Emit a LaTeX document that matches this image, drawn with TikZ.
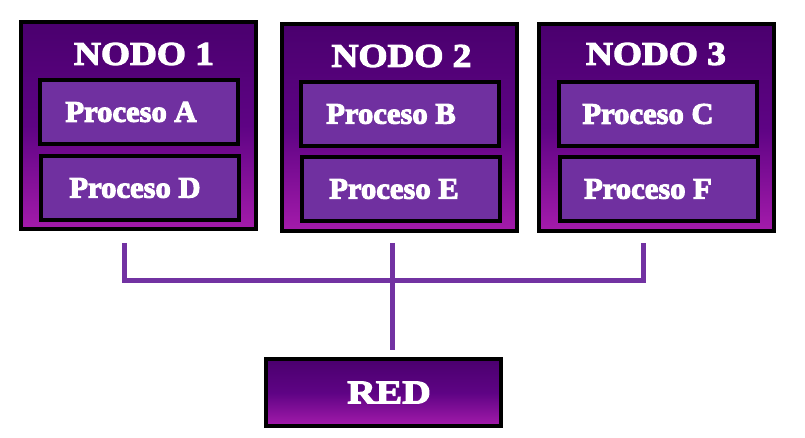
\documentclass[tikz,border=0pt]{standalone}
\usepackage{fontspec}
\newfontfamily\capfont[FakeBold=3.5,FakeStretch=1.13]{Liberation Serif}
\newfontfamily\procfont[FakeBold=3.5,FakeStretch=1.02]{Liberation Serif}
\newfontfamily\redfont[FakeBold=3.5,FakeStretch=1.2]{Liberation Serif}
\definecolor{nodetop}{HTML}{4A006E}
\definecolor{nodemid}{HTML}{5E0384}
\definecolor{nodebot}{HTML}{A41BAB}
\definecolor{procfill}{HTML}{7030A0}
\definecolor{linkcol}{HTML}{7232A2}
\begin{document}
\begin{tikzpicture}[x=1pt,y=-1pt,
  nodebox/.style={draw=black,line width=4pt,minimum width=235pt,minimum height=207pt,
    inner sep=0pt,outer sep=0pt,top color=nodetop,bottom color=nodebot,middle color=nodemid},
  redbox/.style={nodebox,minimum height=67pt,text=white,font=\redfont\bfseries\fontsize{33}{38}\selectfont},
  procbox/.style={draw=black,line width=4pt,fill=procfill,minimum width=198pt,minimum height=64pt,
    inner sep=0pt,outer sep=0pt,text=white,font=\procfont\bfseries\fontsize{30}{34}\selectfont},
  title/.style={text=white,inner sep=0pt,font=\capfont\bfseries\fontsize{33}{38}\selectfont},
  link/.style={draw=linkcol,line width=5pt,line join=miter}
]
\useasboundingbox (0,0) rectangle (805,438);
% outer node boxes
\node[nodebox] (n1) at (138.5,125.5) {};
\node[nodebox] (n2) at (399,127.5) {};
\node[nodebox] (n3) at (656.5,127.5) {};
% titles
\node[title] (t1) at (144,54) {NODO 1};
\node[title] (t2) at (401.5,56) {NODO 2};
\node[title] (t3) at (656,54) {NODO 3};
% process boxes
\node[procbox] (pa) at (139,112) {\hspace*{-16pt}Proceso A};
\node[procbox] (pd) at (140,188) {\hspace*{-10pt}Proceso D};
\node[procbox] (pb) at (400,114) {\hspace*{-18pt}Proceso B};
\node[procbox] (pe) at (401,189) {\hspace*{-14pt}Proceso E};
\node[procbox] (pc) at (657.5,114) {\hspace*{-19pt}Proceso C};
\node[procbox] (pf) at (658.5,189) {\hspace*{-21pt}Proceso F};
% network box
\node[redbox] (red) at (383.5,392.5) {\hspace*{11pt}RED};
% connectors
\coordinate (c1) at (124,243);
\coordinate (c2) at (392,243);
\coordinate (c3) at (643,243);
\coordinate (j) at (392,280);
\coordinate (rt) at (392,350);
\draw[link] (c1) |- (j) -| (c3);
\draw[link] (c2) -- (rt);
\end{tikzpicture}
\end{document}
